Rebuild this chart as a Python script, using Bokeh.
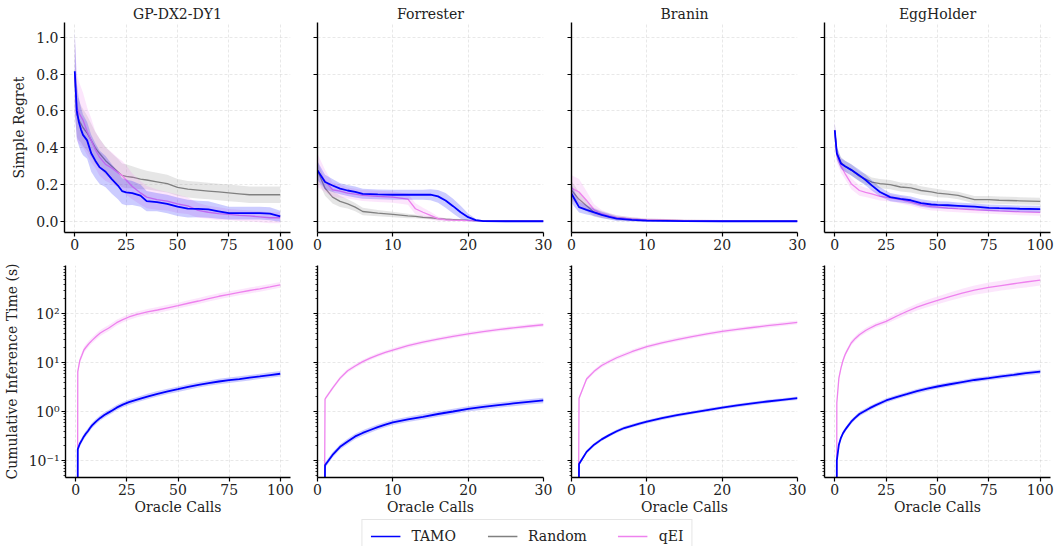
import numpy as np
from bokeh.plotting import figure
from bokeh.layouts import row, column
from bokeh.models import (Range1d, FixedTicker, PrintfTickFormatter, CustomJSTickFormatter,
                          Legend, LegendItem, ColumnDataSource)
from bokeh.embed import file_html
from bokeh.resources import INLINE

FONT = "DejaVu Serif"
C_TAMO = "#0000ff"
C_RAND = "#808080"
C_QEI = "#ee82ee"

TITLES = ["GP-DX2-DY1", "Forrester", "Branin", "EggHolder"]
SERIES = ["TAMO", "Random", "qEI"]

# ---------------- Simple regret ----------------
GP_X = [0, 1, 2, 3, 4, 6, 8, 10, 12, 15, 18, 21, 23, 25, 28, 32, 35, 40, 45, 50, 55, 60, 65, 70, 75, 80, 85, 90, 95, 100]
GP_TAMO = [0.815, 0.60, 0.54, 0.50, 0.47, 0.44, 0.37, 0.33, 0.295, 0.27, 0.23, 0.195, 0.165, 0.158, 0.154, 0.14, 0.11, 0.105, 0.095, 0.08, 0.07, 0.068, 0.065, 0.055, 0.045, 0.045, 0.045, 0.045, 0.042, 0.028]
GP_TAMO_SD = [0.22, 0.15, 0.13, 0.12, 0.11, 0.10, 0.10, 0.095, 0.09, 0.085, 0.08, 0.075, 0.07, 0.07, 0.065, 0.06, 0.055, 0.05, 0.05, 0.05, 0.048, 0.045, 0.045, 0.04, 0.035, 0.035, 0.035, 0.035, 0.035, 0.03]
GP_RAND = [0.80, 0.58, 0.55, 0.53, 0.51, 0.48, 0.44, 0.40, 0.37, 0.33, 0.30, 0.27, 0.25, 0.245, 0.24, 0.23, 0.225, 0.215, 0.205, 0.185, 0.175, 0.17, 0.165, 0.16, 0.155, 0.15, 0.145, 0.145, 0.145, 0.145]
GP_RAND_SD = [0.2, 0.12, 0.11, 0.1, 0.1, 0.095, 0.09, 0.085, 0.08, 0.075, 0.07, 0.07, 0.065, 0.065, 0.06, 0.055, 0.05, 0.05, 0.048, 0.045, 0.045, 0.045, 0.045, 0.045, 0.045, 0.045, 0.045, 0.045, 0.045, 0.045]
GP_QEI = [0.80, 0.62, 0.59, 0.57, 0.55, 0.49, 0.44, 0.39, 0.35, 0.31, 0.29, 0.265, 0.25, 0.225, 0.19, 0.155, 0.132, 0.118, 0.11, 0.096, 0.085, 0.06, 0.05, 0.042, 0.038, 0.033, 0.03, 0.025, 0.02, 0.02]
GP_QEI_SD = [0.22, 0.18, 0.17, 0.16, 0.15, 0.13, 0.12, 0.1, 0.1, 0.09, 0.085, 0.08, 0.08, 0.08, 0.07, 0.065, 0.06, 0.055, 0.05, 0.05, 0.045, 0.04, 0.035, 0.035, 0.03, 0.03, 0.03, 0.03, 0.03, 0.03]

FOR_X = [0, 1, 2, 3, 4, 5, 6, 8, 10, 12, 13, 14, 15, 16, 17, 18, 19, 20, 21, 22, 25, 30]
FOR_TAMO = [0.277, 0.214, 0.195, 0.178, 0.168, 0.16, 0.15, 0.147, 0.145, 0.145, 0.145, 0.145, 0.145, 0.136, 0.114, 0.083, 0.05, 0.023, 0.007, 0.002, 0.001, 0.001]
FOR_TAMO_SD = [0.05, 0.04, 0.035, 0.03, 0.03, 0.03, 0.027, 0.027, 0.027, 0.027, 0.027, 0.027, 0.03, 0.035, 0.04, 0.04, 0.035, 0.02, 0.008, 0.004, 0.003, 0.003]
FOR_RAND = [0.277, 0.18, 0.132, 0.109, 0.095, 0.078, 0.054, 0.045, 0.038, 0.03, 0.027, 0.022, 0.02, 0.015, 0.012, 0.01, 0.008, 0.006, 0.005, 0.004, 0.003, 0.002]
FOR_RAND_SD = [0.05, 0.04, 0.035, 0.03, 0.025, 0.022, 0.02, 0.017, 0.015, 0.012, 0.01, 0.009, 0.008, 0.007, 0.006, 0.005, 0.005, 0.004, 0.004, 0.003, 0.003, 0.003]
FOR_QEI = [0.277, 0.22, 0.172, 0.165, 0.154, 0.148, 0.141, 0.136, 0.132, 0.121, 0.069, 0.05, 0.033, 0.015, 0.009, 0.007, 0.006, 0.005, 0.004, 0.003, 0.002, 0.002]
FOR_QEI_SD = [0.09, 0.06, 0.04, 0.035, 0.03, 0.03, 0.03, 0.03, 0.03, 0.03, 0.03, 0.025, 0.02, 0.012, 0.008, 0.006, 0.005, 0.004, 0.004, 0.003, 0.003, 0.003]

BRA_X = [0, 1, 2, 3, 4, 5, 6, 8, 10, 15, 20, 25, 30]
BRA_TAMO = [0.15, 0.078, 0.063, 0.049, 0.036, 0.025, 0.015, 0.009, 0.004, 0.002, 0.001, 0.001, 0.001]
BRA_TAMO_SD = [0.05, 0.03, 0.025, 0.02, 0.017, 0.015, 0.012, 0.009, 0.007, 0.005, 0.004, 0.004, 0.004]
BRA_RAND = [0.17, 0.12, 0.085, 0.05, 0.037, 0.028, 0.02, 0.013, 0.008, 0.004, 0.003, 0.002, 0.002]
BRA_RAND_SD = [0.05, 0.04, 0.03, 0.025, 0.02, 0.016, 0.013, 0.01, 0.008, 0.006, 0.005, 0.004, 0.004]
BRA_QEI = [0.181, 0.16, 0.114, 0.063, 0.042, 0.03, 0.021, 0.013, 0.008, 0.004, 0.003, 0.002, 0.002]
BRA_QEI_SD = [0.07, 0.07, 0.05, 0.03, 0.02, 0.016, 0.012, 0.01, 0.008, 0.006, 0.005, 0.004, 0.004]

EGG_X = [0, 1, 3, 5, 8, 12, 15, 18, 22, 27, 32, 37, 42, 47, 50, 55, 60, 68, 75, 80, 90, 100]
EGG_TAMO = [0.495, 0.37, 0.315, 0.30, 0.28, 0.25, 0.225, 0.196, 0.16, 0.132, 0.123, 0.115, 0.10, 0.092, 0.09, 0.088, 0.085, 0.08, 0.074, 0.072, 0.069, 0.067]
EGG_TAMO_SD = [0.04, 0.035, 0.03, 0.03, 0.03, 0.03, 0.03, 0.028, 0.025, 0.022, 0.02, 0.02, 0.02, 0.02, 0.02, 0.02, 0.018, 0.018, 0.018, 0.018, 0.018, 0.018]
EGG_RAND = [0.495, 0.37, 0.32, 0.30, 0.28, 0.245, 0.23, 0.214, 0.205, 0.2, 0.187, 0.182, 0.168, 0.16, 0.154, 0.148, 0.141, 0.118, 0.118, 0.115, 0.112, 0.109]
EGG_RAND_SD = [0.04, 0.035, 0.03, 0.03, 0.03, 0.028, 0.027, 0.025, 0.025, 0.025, 0.025, 0.025, 0.023, 0.022, 0.022, 0.02, 0.02, 0.02, 0.02, 0.02, 0.02, 0.02]
EGG_QEI = [0.495, 0.36, 0.30, 0.26, 0.205, 0.168, 0.158, 0.15, 0.136, 0.128, 0.118, 0.105, 0.09, 0.08, 0.078, 0.072, 0.068, 0.063, 0.06, 0.057, 0.052, 0.049]
EGG_QEI_SD = [0.05, 0.04, 0.035, 0.03, 0.03, 0.028, 0.025, 0.025, 0.022, 0.02, 0.02, 0.02, 0.02, 0.02, 0.02, 0.02, 0.018, 0.018, 0.018, 0.018, 0.018, 0.018]

# ---------------- Cumulative inference time (s) ----------------
GP_TX = [0, 1, 2, 3, 4, 5, 6, 7, 8, 10, 12, 14, 16, 18, 20, 23, 26, 30, 35, 40, 45, 50, 55, 60, 65, 70, 75, 80, 85, 90, 95, 100]
GP_T_TAMO = [0, 0.17, 0.22, 0.26, 0.31, 0.355, 0.40, 0.46, 0.52, 0.63, 0.74, 0.85, 0.95, 1.06, 1.2, 1.38, 1.55, 1.75, 2.02, 2.3, 2.58, 2.85, 3.17, 3.5, 3.8, 4.1, 4.35, 4.6, 4.9, 5.2, 5.55, 5.9]
GP_T_QEI = [0, 6.5, 11, 14, 18, 20.5, 23, 25.7, 28.3, 34, 40, 45, 50, 57, 65, 75, 85, 96, 108, 118, 131, 145, 162, 180, 202, 225, 247, 270, 295, 320, 350, 385]
GP_T_TAMO_SP = 0.055   # log10 half-width of the band
GP_T_QEI_SP = 0.06

FOR_TX = [0, 1, 2, 3, 4, 5, 6, 7, 8, 9, 10, 12, 14, 16, 18, 20, 22, 24, 26, 28, 30]
FOR_T_TAMO = [0, 0.08, 0.13, 0.19, 0.245, 0.31, 0.365, 0.42, 0.48, 0.54, 0.6, 0.69, 0.78, 0.89, 1.0, 1.13, 1.24, 1.35, 1.46, 1.57, 1.68]
FOR_T_QEI = [0, 1.8, 3.0, 4.8, 6.8, 8.5, 10.4, 12.3, 14.2, 16.1, 18, 22, 26, 30, 34.3, 38.5, 42.7, 46.9, 51, 55, 59]
FOR_T_TAMO_SP = 0.055
FOR_T_QEI_SP = 0.04

BRA_TX = [0, 1, 2, 3, 4, 5, 6, 7, 8, 9, 10, 12, 14, 16, 18, 20, 22, 24, 26, 28, 30]
BRA_T_TAMO = [0, 0.085, 0.15, 0.21, 0.27, 0.33, 0.395, 0.46, 0.51, 0.565, 0.62, 0.73, 0.84, 0.95, 1.07, 1.2, 1.33, 1.46, 1.6, 1.73, 1.87]
BRA_T_QEI = [0, 1.87, 4.6, 6.6, 8.7, 10.5, 12.5, 14.4, 16.6, 18.8, 21, 25.2, 29.4, 33.8, 38.4, 43, 47.4, 51.8, 56.4, 61, 66]
BRA_T_TAMO_SP = 0.035
BRA_T_QEI_SP = 0.04

EGG_TX = [0, 1, 2, 3, 4, 5, 6, 8, 10, 12, 15, 17, 20, 25, 30, 35, 40, 45, 50, 56, 62, 68, 75, 81, 87, 93, 100]
EGG_T_TAMO = [0, 0.1, 0.21, 0.29, 0.36, 0.42, 0.48, 0.62, 0.75, 0.89, 1.05, 1.17, 1.35, 1.68, 1.97, 2.26, 2.6, 2.92, 3.24, 3.6, 3.98, 4.4, 4.8, 5.2, 5.6, 6.05, 6.5]
EGG_T_QEI = [0, 1.5, 4.8, 7.7, 11, 14.4, 17.5, 25, 31, 37, 45, 50, 58, 69, 88, 110, 135, 160, 185, 222, 260, 300, 340, 372, 405, 440, 480]
EGG_T_TAMO_SP = 0.045
EGG_T_QEI_SP = [0.05, 0.05, 0.05, 0.05, 0.05, 0.05, 0.05, 0.05, 0.05, 0.05, 0.05, 0.05, 0.05, 0.055, 0.06, 0.065, 0.07, 0.075, 0.08, 0.085, 0.09, 0.095, 0.1, 0.1, 0.105, 0.11, 0.11]

X_TICKS_100 = [0, 25, 50, 75, 100]
X_TICKS_30 = [0, 10, 20, 30]
REGRET_TICKS = [0.0, 0.2, 0.4, 0.6, 0.8, 1.0]
TIME_TICKS = [0.1, 1, 10, 100]

REGRET = [
    (GP_X, [(GP_TAMO, GP_TAMO_SD), (GP_RAND, GP_RAND_SD), (GP_QEI, GP_QEI_SD)]),
    (FOR_X, [(FOR_TAMO, FOR_TAMO_SD), (FOR_RAND, FOR_RAND_SD), (FOR_QEI, FOR_QEI_SD)]),
    (BRA_X, [(BRA_TAMO, BRA_TAMO_SD), (BRA_RAND, BRA_RAND_SD), (BRA_QEI, BRA_QEI_SD)]),
    (EGG_X, [(EGG_TAMO, EGG_TAMO_SD), (EGG_RAND, EGG_RAND_SD), (EGG_QEI, EGG_QEI_SD)]),
]
TIMES = [
    (GP_TX, (GP_T_TAMO, GP_T_TAMO_SP), (GP_T_QEI, GP_T_QEI_SP)),
    (FOR_TX, (FOR_T_TAMO, FOR_T_TAMO_SP), (FOR_T_QEI, FOR_T_QEI_SP)),
    (BRA_TX, (BRA_T_TAMO, BRA_T_TAMO_SP), (BRA_T_QEI, BRA_T_QEI_SP)),
    (EGG_TX, (EGG_T_TAMO, EGG_T_TAMO_SP), (EGG_T_QEI, EGG_T_QEI_SP)),
]
XRANGES = [(-5, 105), (0, 30), (0, 30), (-5, 105)]
XTICKS = [X_TICKS_100, X_TICKS_30, X_TICKS_30, X_TICKS_100]

# layout geometry (figure widths and side borders)
WIDTHS = [300, 254, 253, 247]
LEFTS = [64, 17, 17, 17]
RIGHTS = [10, 11, 10, 4]

COLORS = [C_TAMO, C_RAND, C_QEI]
LWS = [1.8, 1.3, 1.3]


def style_axes(p, show_ylabels):
    for ax in p.axis:
        ax.axis_line_color = "black"
        ax.axis_line_width = 1.4
        ax.major_tick_line_color = "black"
        ax.major_tick_line_width = 1.2
        ax.major_tick_out = 4
        ax.major_tick_in = 0
        ax.major_label_text_font = FONT
        ax.major_label_text_font_size = "14px"
        ax.major_label_text_color = "#222222"
        ax.major_label_standoff = 2
        ax.axis_label_text_font = FONT
        ax.axis_label_text_font_size = "14px"
        ax.axis_label_text_font_style = "normal"
        ax.axis_label_text_color = "#222222"
    for g in (p.xgrid, p.ygrid):
        g.grid_line_color = "#b8b8b8"
        g.grid_line_alpha = 0.4
        g.grid_line_dash = "3 2"
        g.grid_line_width = 0.8
    p.outline_line_color = None
    if not show_ylabels:
        p.yaxis.formatter = CustomJSTickFormatter(code="return '';")


def make_fig(i, height, top, bottom, y_range, log):
    p = figure(width=WIDTHS[i], height=height,
               x_range=Range1d(*XRANGES[i]), y_range=y_range,
               y_axis_type="log" if log else "linear",
               output_backend="svg", toolbar_location=None,
               min_border_left=LEFTS[i], min_border_right=RIGHTS[i],
               min_border_top=top, min_border_bottom=bottom)
    p.xaxis.ticker = FixedTicker(ticks=XTICKS[i])
    p.xaxis.formatter = PrintfTickFormatter(format="%d")
    p.xaxis.minor_tick_line_color = None
    return p


top_row = []
bottom_row = []
MINOR = [k * d for d in (0.01, 0.1, 1, 10, 100) for k in range(2, 10)]

for i in range(4):
    # ----- regret panel
    p = make_fig(i, 254, 22, 22, Range1d(-0.06, 1.08), False)
    p.title.text = TITLES[i]
    p.title.text_font = FONT
    p.title.text_font_size = "14px"
    p.title.text_font_style = "normal"
    p.title.text_color = "#222222"
    p.title.align = "center"
    p.title.standoff = 2
    p.yaxis.ticker = FixedTicker(ticks=REGRET_TICKS)
    p.yaxis.formatter = PrintfTickFormatter(format="%.1f")
    p.yaxis.minor_tick_line_color = None
    if i == 0:
        p.yaxis.axis_label = "Simple Regret"
        p.yaxis.axis_label_standoff = 6
    style_axes(p, i == 0)
    xs, sers = REGRET[i]
    order = [1, 2, 0]
    for k in order:
        m, sd = sers[k]
        m = np.array(m, float)
        sd = np.array(sd, float)
        src = ColumnDataSource(dict(x=xs, y=m, lo=m - sd, hi=m + sd))
        p.varea(x="x", y1="lo", y2="hi", source=src, fill_color=COLORS[k], fill_alpha=0.2)
        p.line(x="x", y="y", source=src, line_color=COLORS[k], line_width=LWS[k])
    top_row.append(p)

    # ----- time panel
    q = make_fig(i, 263, 11, 40, Range1d(0.045, 955), True)
    q.yaxis.ticker = FixedTicker(ticks=TIME_TICKS, minor_ticks=MINOR)
    q.yaxis.formatter = CustomJSTickFormatter(code="""
        const e = Math.round(Math.log10(tick));
        const sup = {'-': '\u207b', '0': '\u2070', '1': '\u00b9', '2': '\u00b2', '3': '\u00b3'};
        return '10' + String(e).split('').map(c => sup[c]).join('');
    """)
    q.yaxis.minor_tick_line_color = "black"
    q.yaxis.minor_tick_out = 2
    q.yaxis.minor_tick_in = 0
    q.yaxis.minor_tick_line_width = 0.8
    q.xaxis.axis_label = "Oracle Calls"
    q.xaxis.axis_label_standoff = 1
    if i == 0:
        q.yaxis.axis_label = "Cumulative Inference Time (s)"
        q.yaxis.axis_label_standoff = 6
    style_axes(q, i == 0)
    if i != 0:
        q.yaxis.formatter = CustomJSTickFormatter(code="return '';")
    tx, (tm, tsp), (qm, qsp) = TIMES[i]
    for vals, sp, k in ((qm, qsp, 2), (tm, tsp, 0)):
        v = np.array(vals, float)
        v = np.where(v > 0, v, 1e-30)  # clip non-positive values like a log plot does
        f = 10 ** np.array(sp, float)
        src = ColumnDataSource(dict(x=tx, y=v, lo=v / f, hi=v * f))
        q.varea(x="x", y1="lo", y2="hi", source=src, fill_color=COLORS[k], fill_alpha=0.2)
        q.line(x="x", y="y", source=src, line_color=COLORS[k], line_width=LWS[k])
    bottom_row.append(q)

# ----- legend strip (proxy lines carry no visible data)
lf = figure(width=1054, height=29, x_range=Range1d(0, 1), y_range=Range1d(0, 1),
            output_backend="svg", toolbar_location=None, min_border=0,
            x_axis_location=None, y_axis_location=None)
lf.xgrid.visible = False
lf.ygrid.visible = False
lf.outline_line_color = None
items = []
for k, name in enumerate(SERIES):
    r = lf.line(x=[float("nan")], y=[float("nan")], line_color=COLORS[k], line_width=1.5)
    items.append(LegendItem(label=name, renderers=[r]))
leg = Legend(items=items, orientation="horizontal", location="top_center",
             label_text_font=FONT, label_text_font_size="14px", label_text_color="#222222",
             glyph_width=30, glyph_height=14, label_standoff=11, spacing=31,
             padding=8, margin=2, border_line_color="#cccccc", border_line_width=1,
             background_fill_color="white", background_fill_alpha=1)
lf.add_layout(leg, "center")

layout = column(row(*top_row), row(*bottom_row), lf)
open("out.html", "w").write(file_html(layout, INLINE))
